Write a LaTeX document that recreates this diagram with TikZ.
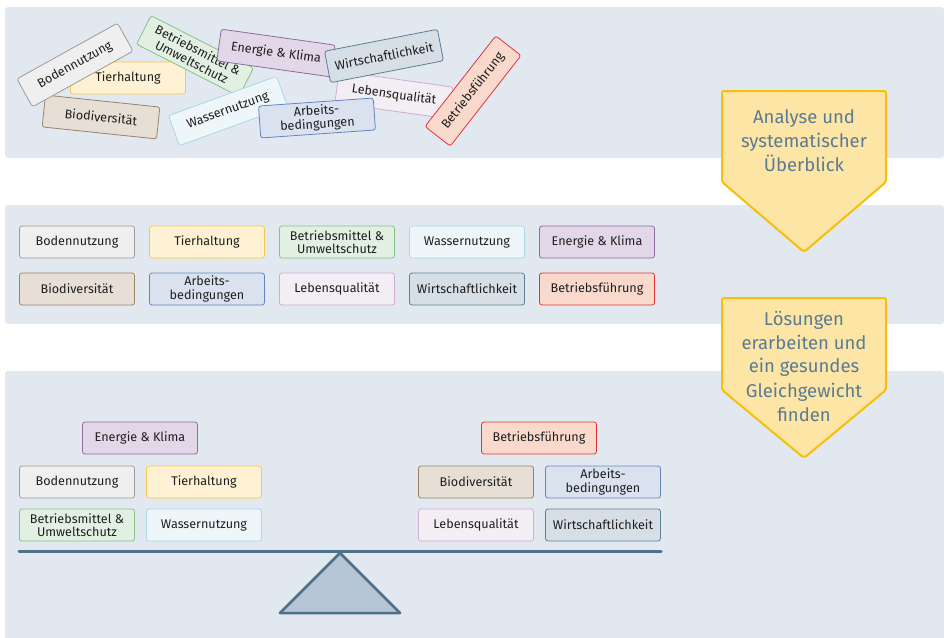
\documentclass[tikz,border=0pt]{standalone}
\usepackage{fontspec}
\setmainfont{Fira Sans}
\usetikzlibrary{calc}

\definecolor{panel}{HTML}{E1E8EF}
\definecolor{txt}{HTML}{1E1E1E}
\definecolor{bodenF}{HTML}{EFEFEF}\definecolor{bodenD}{HTML}{9B9B9B}
\definecolor{tierF}{HTML}{FFF1D4}\definecolor{tierD}{HTML}{F6C94A}
\definecolor{mittelF}{HTML}{E2F0E2}\definecolor{mittelD}{HTML}{86C08A}
\definecolor{wasserF}{HTML}{EEF6F9}\definecolor{wasserD}{HTML}{ABD7E3}
\definecolor{energieF}{HTML}{E2D7E8}\definecolor{energieD}{HTML}{8F6B9F}
\definecolor{bioF}{HTML}{E7DFD6}\definecolor{bioD}{HTML}{9A8367}
\definecolor{arbeitF}{HTML}{DAE1EF}\definecolor{arbeitD}{HTML}{6485C0}
\definecolor{lebenF}{HTML}{F3EDF4}\definecolor{lebenD}{HTML}{CFAED4}
\definecolor{wirtF}{HTML}{D6DEE6}\definecolor{wirtD}{HTML}{5D7E97}
\definecolor{fuehrF}{HTML}{F9D9CB}\definecolor{fuehrD}{HTML}{E4323B}
\definecolor{arrowF}{HTML}{FDE5A6}\definecolor{arrowD}{HTML}{F6BF0A}
\definecolor{arrowT}{HTML}{5B7B92}
\definecolor{beamC}{HTML}{4E7088}
\definecolor{fulcF}{HTML}{B5C5D3}

\begin{document}
\begin{tikzpicture}[x=1pt,y=-1pt]%% Balance
                \tikzstyle{tag}     = [rectangle, rounded corners=2.5pt, draw, line width=0.8pt, minimum width=115pt, minimum height=32pt, inner sep=1pt, align=center, text=txt, font=\fontsize{12.6}{13.5}\selectfont]
                \tikzstyle{boden}   = [tag, fill=bodenF, draw=bodenD]
                \tikzstyle{tier}    = [tag, fill=tierF, draw=tierD]
                \tikzstyle{mittel}  = [tag, fill=mittelF, draw=mittelD]
                \tikzstyle{wasser}  = [tag, fill=wasserF, draw=wasserD]
                \tikzstyle{energie} = [tag, fill=energieF, draw=energieD]
                \tikzstyle{bio}     = [tag, fill=bioF, draw=bioD]
                \tikzstyle{arbeit}  = [tag, fill=arbeitF, draw=arbeitD]
                \tikzstyle{leben}   = [tag, fill=lebenF, draw=lebenD]
                \tikzstyle{wirt}    = [tag, fill=wirtF, draw=wirtD]
                \tikzstyle{fuehr}   = [tag, fill=fuehrF, draw=fuehrD]
                \tikzstyle{chevron} = [fill=arrowF, draw=arrowD, line width=2pt, rounded corners=2pt]
                \tikzstyle{chevtext}= [align=center, text=arrowT, font=\fontsize{18.5}{24}\selectfont]

                \useasboundingbox (0,0) rectangle (944,637);
                \fill [panel, rounded corners=3pt] (5,7) rectangle (944,158);
                \fill [panel, rounded corners=3pt] (5,205) rectangle (944,324);
                \fill [panel, rounded corners=3pt] (5,371) rectangle (944,645);

                % durcheinander
                \foreach \n/\s/\x/\y/\r/\t in {tier/tier/128/78/0/Tierhaltung, bio/bio/101/117/-6/Biodiversität,
                        boden/boden/75/65/29/Bodennutzung, mittel/mittel/195/56/-27/{Betriebsmittel \&\\Umweltschutz},
                        energie/energie/276/53/-8/Energie \& Klima, wasser/wasser/228/111/20/Wassernutzung,
                        leben/leben/394/95/-8/Lebensqualität, wirt/wirt/384/56/11/Wirtschaftlichkeit,
                        arbeit/arbeit/317/118/4/{Arbeits-\\bedingungen}, fuehr/fuehr/473/91/52/Betriebsführung}{
                        \node [\s, rotate=\r](t-\n) at (\x,\y) {\t};
                }

                % geordnet
                \foreach \s/\x/\y/\t in {boden/77/242/Bodennutzung, tier/207/242/Tierhaltung,
                        mittel/337/242/{Betriebsmittel \&\\Umweltschutz}, wasser/467/242/Wassernutzung,
                        energie/597/242/Energie \& Klima, bio/77/289/Biodiversität,
                        arbeit/207/289/{Arbeits-\\bedingungen}, leben/337/289/Lebensqualität,
                        wirt/467/289/Wirtschaftlichkeit, fuehr/597/289/Betriebsführung}{
                        \node [\s](m-\s) at (\x,\y) {\t};
                }

                % Gleichgewicht
                \foreach \s/\x/\y/\t in {energie/140/438/Energie \& Klima, boden/77/482/Bodennutzung,
                        tier/204/482/Tierhaltung, mittel/77/525/{Betriebsmittel \&\\Umweltschutz},
                        wasser/204/525/Wassernutzung, fuehr/539/438/Betriebsführung,
                        bio/476/482/Biodiversität, arbeit/603/482/{Arbeits-\\bedingungen},
                        leben/476/525/Lebensqualität, wirt/603/525/Wirtschaftlichkeit}{
                        \node [\s](b-\s) at (\x,\y) {\t};
                }
                \draw [beamC, line width=3pt, line cap=round] (19,551) -- (661,551);
                \draw [beamC, fill=fulcF, line width=2.5pt, line join=round] (340,553) -- (400,613) -- (280,613) -- cycle;

                % Pfeile
                \draw [chevron] (722,91) -- (886,91) -- (886,182) -- (804,252) -- (722,182) -- cycle;
                \node [chevtext](a1) at (804,141) {Analyse und\\systematischer\\Überblick};
                \draw [chevron] (722,298) -- (886,298) -- (886,390) -- (804,458) -- (722,390) -- cycle;
                \node [chevtext](a2) at (804,366) {Lösungen\\erarbeiten und\\ein gesundes\\Gleichgewicht\\finden};
\end{tikzpicture}
\end{document}
